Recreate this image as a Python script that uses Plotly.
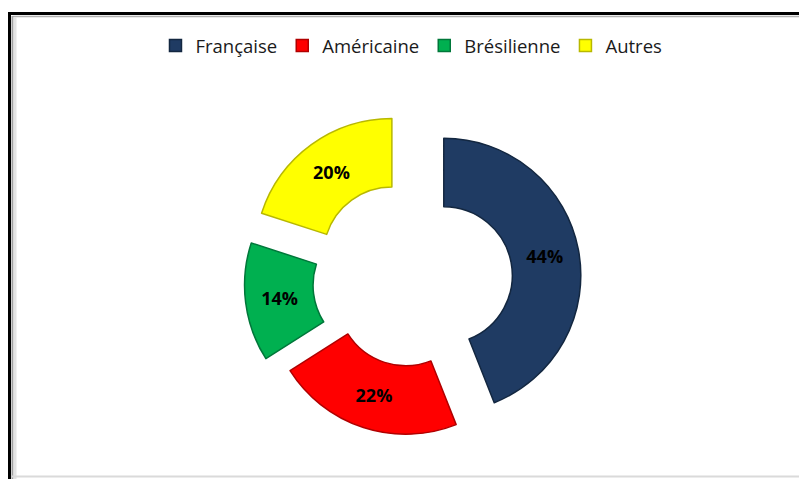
import plotly.graph_objects as go

# Répartition par nationalité
categories = ["Française", "Américaine", "Brésilienne", "Autres"]
values = [44, 22, 14, 20]
colors = ["#1F3B63", "#FF0000", "#00B050", "#FFFF00"]
edge_colors = ["#132740", "#B00000", "#00773A", "#B8B800"]
pulls = [0.245, 0.12, 0.215, 0.235]

W, H = 799, 479


def px_x(x):
    return x / W


def px_y(y):
    return 1 - y / H


fig = go.Figure(
    go.Pie(
        labels=categories,
        values=values,
        hole=0.5,
        sort=False,
        direction="clockwise",
        rotation=0,
        pull=pulls,
        marker=dict(colors=colors, line=dict(color=edge_colors, width=1.5)),
        textinfo="percent",
        textposition="inside",
        insidetextorientation="horizontal",
        textfont=dict(family="Open Sans", size=18, color="#000000", weight="bold"),
        domain=dict(x=[0.2638, 0.7645], y=[0.0560, 0.7683]),
        hoverinfo="label+percent",
    )
)

# Cadre du graphique : bord noir en haut et à gauche, ombre grise à l'intérieur
frame = [
    dict(x0=px_x(9.5), x1=1.0, y0=px_y(13.5), y1=px_y(13.5), color="#000000", width=3),
    dict(x0=px_x(9.5), x1=px_x(9.5), y0=px_y(12), y1=0.0, color="#000000", width=3),
    dict(x0=px_x(12.5), x1=1.0, y0=px_y(16.5), y1=px_y(16.5), color="#B0B0B0", width=1.5),
    dict(x0=px_x(12.5), x1=px_x(12.5), y0=px_y(16), y1=0.0, color="#A0A0A0", width=2),
    dict(x0=px_x(15), x1=px_x(15), y0=px_y(17), y1=0.0, color="#E4E4E4", width=3),
    dict(x0=px_x(12), x1=1.0, y0=px_y(476.5), y1=px_y(476.5), color="#DADADA", width=2),
]
shapes = [
    dict(type="line", xref="paper", yref="paper",
         x0=f["x0"], x1=f["x1"], y0=f["y0"], y1=f["y1"],
         line=dict(color=f["color"], width=f["width"]))
    for f in frame
]

fig.update_layout(
    width=W,
    height=H,
    margin=dict(l=0, r=0, t=0, b=0),
    paper_bgcolor="#FFFFFF",
    plot_bgcolor="#FFFFFF",
    shapes=shapes,
    showlegend=True,
    legend=dict(
        orientation="h",
        x=0.515,
        xanchor="center",
        y=px_y(46),
        yanchor="middle",
        font=dict(family="Open Sans", size=18.5, color="#1A1A1A"),
        itemwidth=30,
        traceorder="normal",
        bgcolor="rgba(0,0,0,0)",
    ),
)

fig.write_html("out.html")
